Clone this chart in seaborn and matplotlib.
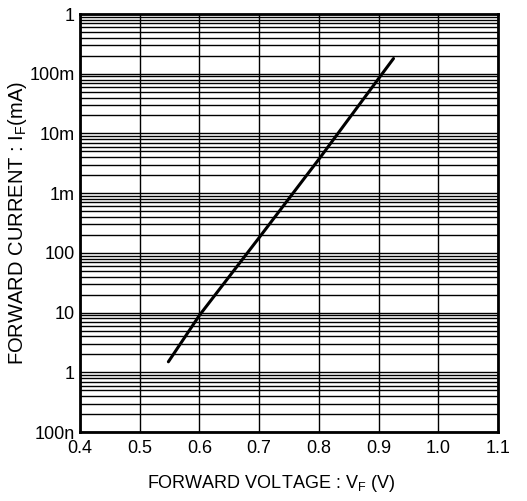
import matplotlib
matplotlib.use("Agg")
import matplotlib.pyplot as plt
import numpy as np
import pandas as pd
import seaborn as sns
from matplotlib.ticker import FixedLocator, LogLocator, NullFormatter

# forward characteristic
vf = [0.548, 0.6, 0.7, 0.8, 0.9, 0.925]
i_f = [1.5e-6, 9e-6, 1.8e-4, 3.7e-3, 8.3e-2, 0.18]

x_ticks = [0.4, 0.5, 0.6, 0.7, 0.8, 0.9, 1.0, 1.1]
x_labels = ["0.4", "0.5", "0.6", "0.7", "0.8", "0.9", "1.0", "1.1"]
y_ticks = [1e-7, 1e-6, 1e-5, 1e-4, 1e-3, 1e-2, 1e-1, 1]
y_labels = ["100n", "1", "10", "100", "1m", "10m", "100m", "1"]

sns.set_theme(style="white")
plt.rcParams["font.family"] = ["Liberation Sans", "DejaVu Sans"]
plt.rcParams["mathtext.fontset"] = "custom"
plt.rcParams["mathtext.rm"] = "Liberation Sans"
plt.rcParams["text.color"] = "black"
plt.rcParams["axes.labelcolor"] = "black"
plt.rcParams["xtick.color"] = "black"
plt.rcParams["ytick.color"] = "black"

df = pd.DataFrame({"vf": vf, "if": i_f})

fig = plt.figure(figsize=(5.27, 5.01), dpi=100)
ax = fig.add_axes([0.1518, 0.1377, 0.7932, 0.8343])

sns.lineplot(data=df, x="vf", y="if", ax=ax, color="black", lw=2.2)
ax.set_yscale("log")
ax.set_xlim(0.4, 1.1)
ax.set_ylim(1e-7, 1)

ax.set_xticks(x_ticks)
ax.set_xticklabels(x_labels, fontsize=13)
ax.yaxis.set_major_locator(FixedLocator(y_ticks))
ax.set_yticklabels(y_labels, fontsize=13)
ax.yaxis.set_minor_locator(LogLocator(base=10, subs=np.arange(2, 10)))
ax.yaxis.set_minor_formatter(NullFormatter())
ax.tick_params(axis="both", which="both", length=0)
ax.tick_params(axis="x", pad=6)
ax.tick_params(axis="y", pad=4)

ax.grid(True, which="major", axis="both", color="black", lw=1.0)
ax.grid(True, which="minor", axis="y", color="black", lw=1.0)
ax.set_axisbelow(True)

for s in ax.spines.values():
    s.set_color("black")
    s.set_linewidth(2.0)

ax.set_xlabel("FORWARD VOLTAGE : V$\\mathrm{_F}$ (V)", fontsize=13)
ax.xaxis.set_label_coords(0.457, -0.098)
ax.set_ylabel("FORWARD CURRENT : I$\\mathrm{_F}$(mA)", fontsize=14.5, labelpad=0)

fig.savefig("out.png", dpi=100)
